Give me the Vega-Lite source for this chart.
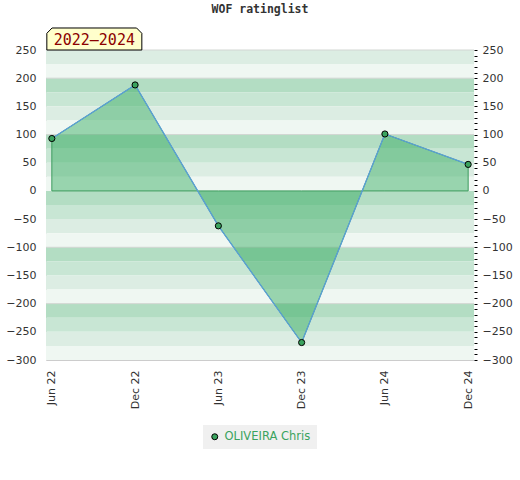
{
  "$schema": "https://vega.github.io/schema/vega-lite/v6.json",
  "autosize": "none",
  "width": 428,
  "height": 310,
  "padding": {"left": 46, "top": 50, "right": 46, "bottom": 120},
  "background": "white",
  "title": {"text": "WOF ratinglist", "font": "DejaVu Sans Mono", "fontSize": 11.5, "fontWeight": "bold", "color": "#333", "anchor": "middle", "offset": 10},
  "datasets": {
    "pts": [
      {"d": "Jun 22", "v": 93, "player": "OLIVEIRA Chris"},
      {"d": "Dec 22", "v": 188, "player": "OLIVEIRA Chris"},
      {"d": "Jun 23", "v": -62, "player": "OLIVEIRA Chris"},
      {"d": "Dec 23", "v": -269, "player": "OLIVEIRA Chris"},
      {"d": "Jun 24", "v": 101, "player": "OLIVEIRA Chris"},
      {"d": "Dec 24", "v": 47, "player": "OLIVEIRA Chris"}
    ],
    "bands": [
      {"hi": 250, "lo": 225, "s": "c"}, {"hi": 225, "lo": 200, "s": "d"},
      {"hi": 200, "lo": 175, "s": "a"}, {"hi": 175, "lo": 150, "s": "b"},
      {"hi": 150, "lo": 125, "s": "c"}, {"hi": 125, "lo": 100, "s": "d"},
      {"hi": 100, "lo": 75, "s": "a"}, {"hi": 75, "lo": 50, "s": "b"},
      {"hi": 50, "lo": 25, "s": "c"}, {"hi": 25, "lo": 0, "s": "d"},
      {"hi": 0, "lo": -25, "s": "a"}, {"hi": -25, "lo": -50, "s": "b"},
      {"hi": -50, "lo": -75, "s": "c"}, {"hi": -75, "lo": -100, "s": "d"},
      {"hi": -100, "lo": -125, "s": "a"}, {"hi": -125, "lo": -150, "s": "b"},
      {"hi": -150, "lo": -175, "s": "c"}, {"hi": -175, "lo": -200, "s": "d"},
      {"hi": -200, "lo": -225, "s": "a"}, {"hi": -225, "lo": -250, "s": "b"},
      {"hi": -250, "lo": -275, "s": "c"}, {"hi": -275, "lo": -300, "s": "d"}
    ],
    "grid": [{"y": 250}, {"y": 200}, {"y": 100}, {"y": -100}, {"y": -200}],
    "label": [{"d": "Jun 22", "v": 250, "t": "2022–2024"}]
  },
  "layer": [
    {
      "layer": [
        {
          "data": {"name": "bands"},
          "mark": {"type": "rect"},
          "encoding": {
            "y": {"field": "hi", "type": "quantitative", "scale": {"domain": [-300, 250], "nice": false, "zero": false},
              "axis": {"orient": "right", "title": null, "tickCount": 200, "values": [-300,-290,-280,-270,-260,-250,-240,-230,-220,-210,-200,-190,-180,-170,-160,-150,-140,-130,-120,-110,-100,-90,-80,-70,-60,-50,-40,-30,-20,-10,0,10,20,30,40,50,60,70,80,90,100,110,120,130,140,150,160,170,180,190,200,210,220,230,240,250],
                "labelExpr": "datum.value % 50 === 0 ? datum.label : ''", "domain": false, "grid": false, "ticks": true, "tickSize": 3, "tickColor": "#000", "labelPadding": 5, "labelFont": "DejaVu Sans", "labelFontSize": 11, "labelColor": "#333", "labelFlush": false, "labelOverlap": false}},
            "y2": {"field": "lo"},
            "fill": {"field": "s", "type": "nominal", "scale": {"domain": ["a", "b", "c", "d"], "range": ["#b3ddc3", "#c8e6d4", "#dcede3", "#eff7f2"]}, "legend": null}
          }
        },
        {
          "data": {"name": "grid"},
          "mark": {"type": "rule", "color": "#d2d6d3", "strokeWidth": 1},
          "encoding": {"y": {"field": "y", "type": "quantitative"}}
        }
      ]
    },
    {
      "data": {"name": "pts"},
      "layer": [
        {
          "mark": {"type": "area", "fill": "#2fa85a", "fillOpacity": 0.45, "stroke": "#3d9c5e", "strokeWidth": 1},
          "encoding": {
            "x": {"field": "d", "type": "ordinal", "sort": null, "scale": {"type": "point", "padding": 0.07},
              "axis": {"title": null, "labelAngle": 270, "ticks": false, "domainColor": "#ccc", "labelPadding": 10, "labelFont": "DejaVu Sans", "labelFontSize": 11, "labelColor": "#333", "grid": false}},
            "y": {"field": "v", "type": "quantitative", "scale": {"domain": [-300, 250], "nice": false, "zero": false},
              "axis": {"orient": "left", "title": null, "tickCount": 100, "values": [-300,-250,-200,-150,-100,-50,0,50,100,150,200,250], "ticks": false, "domainColor": "#ccc", "grid": false, "labelPadding": 10, "labelFont": "DejaVu Sans", "labelFontSize": 11, "labelColor": "#333", "labelFlush": false, "labelOverlap": false}},
            "y2": {"datum": 0}
          }
        },
        {
          "mark": {"type": "line", "color": "#5b9fd8", "strokeWidth": 1.3},
          "encoding": {
            "x": {"field": "d", "type": "ordinal", "sort": null},
            "y": {"field": "v", "type": "quantitative"}
          }
        },
        {
          "mark": {"type": "point", "filled": true, "stroke": "#000", "strokeWidth": 1, "size": 38, "opacity": 1},
          "encoding": {
            "x": {"field": "d", "type": "ordinal", "sort": null},
            "y": {"field": "v", "type": "quantitative"},
            "color": {"field": "player", "type": "nominal", "scale": {"range": ["#3aa35e"]},
              "legend": {"title": null, "orient": "bottom", "fillColor": "#f0f0f0", "padding": 6, "labelColor": "#3aa35e", "labelFont": "DejaVu Sans", "labelFontSize": 11.5, "symbolType": "circle", "symbolSize": 36, "symbolStrokeColor": "#000", "symbolStrokeWidth": 1, "offset": 16}}
          }
        },
        {
          "data": {"name": "label"},
          "mark": {"type": "point", "shape": "M -1 0.2316 L -1 -0.12 L -0.89 -0.2316 L 0.89 -0.2316 L 1 -0.12 L 1 0.2316 Z", "size": 9025, "filled": true, "fill": "#ffffcc", "stroke": "#000", "strokeWidth": 1, "opacity": 1, "xOffset": 42.5, "yOffset": -11},
          "encoding": {
            "x": {"field": "d", "type": "ordinal", "sort": null},
            "y": {"field": "v", "type": "quantitative"}
          }
        },
        {
          "data": {"name": "label"},
          "mark": {"type": "text", "font": "DejaVu Sans Mono", "fontSize": 15, "color": "#8b0000", "dx": 42.5, "dy": -10, "align": "center", "baseline": "middle"},
          "encoding": {
            "x": {"field": "d", "type": "ordinal", "sort": null},
            "y": {"field": "v", "type": "quantitative"},
            "text": {"field": "t"}
          }
        }
      ]
    }
  ],
  "resolve": {"scale": {"y": "independent"}},
  "config": {
    "view": {"stroke": null},
    "legend": {"layout": {"bottom": {"anchor": "middle"}}}
  }
}
